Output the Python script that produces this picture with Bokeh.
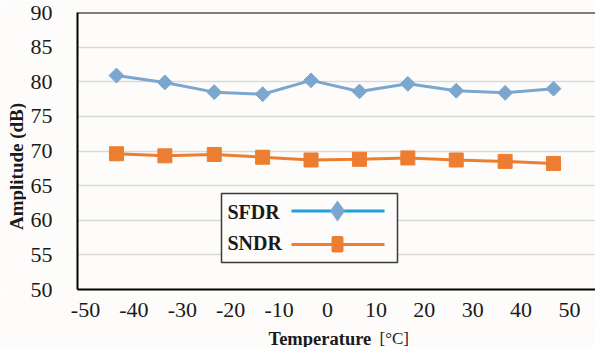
import numpy as np
from bokeh.plotting import figure
from bokeh.layouts import row, column
from bokeh.models import Range1d, FixedTicker, Span, Label, BoxAnnotation, PolyAnnotation
from bokeh.embed import file_html
from bokeh.resources import INLINE

# Measured amplitudes versus temperature
temperature = [-43.6, -33.6, -23.4, -13.4, -3.4, 6.6, 16.6, 26.6, 36.7, 46.7]
sfdr = [80.9, 79.9, 78.5, 78.2, 80.2, 78.6, 79.7, 78.7, 78.4, 79.0]
sndr = [69.6, 69.3, 69.5, 69.1, 68.7, 68.8, 69.0, 68.7, 68.5, 68.2]

x_ticks = [-50, -40, -30, -20, -10, 0, 10, 20, 30, 40, 50]
y_ticks = [50, 55, 60, 65, 70, 75, 80, 85, 90]

series_names = ["SFDR", "SNDR"]
x_title = "Temperature"
x_unit = "[°C]"
y_title = "Amplitude (dB)"

BG = "#FDFCFA"
BLUE = "#7BA7CF"
BLUE_LEGEND = "#1BA1DC"
ORANGE = "#ED7D31"
INK = "#1a1a1a"
FONT = "Liberation Serif"

W, H = 595, 347
SIDE_W = 26            # strip holding the vertical title
FOOT_H = 25            # strip holding the horizontal title
MAIN_W, MAIN_H = W - SIDE_W, H - FOOT_H

FRAME_L, FRAME_T, FRAME_B = 77, 12, 289   # page pixels of the plotting frame
X0, X1 = -51.65, 55.37
Y0, Y1 = 50, 90


def dx(px):
    # page pixel column -> data x of the main plot
    return X0 + (px - FRAME_L) / (W - FRAME_L) * (X1 - X0)


def dy(py):
    # page pixel row -> data y of the main plot
    return Y1 - (py - FRAME_T) / (FRAME_B - FRAME_T) * (Y1 - Y0)


def blank(width, height):
    f = figure(width=width, height=height, x_range=Range1d(0, width),
               y_range=Range1d(height, 0), x_axis_type=None, y_axis_type=None,
               output_backend="svg", toolbar_location=None, min_border=0)
    f.background_fill_color = BG
    f.border_fill_color = BG
    f.outline_line_color = None
    f.grid.visible = False
    return f


p = figure(width=MAIN_W, height=MAIN_H, x_range=Range1d(X0, X1), y_range=Range1d(Y0, Y1),
           output_backend="svg", toolbar_location=None,
           min_border_left=FRAME_L - SIDE_W, min_border_right=0,
           min_border_top=FRAME_T, min_border_bottom=MAIN_H - FRAME_B)
p.background_fill_color = BG
p.border_fill_color = BG
p.outline_line_color = None

for ax in (p.xaxis[0], p.yaxis[0]):
    ax.axis_line_color = "black"
    ax.axis_line_width = 2
    ax.major_tick_line_color = None
    ax.minor_tick_line_color = None
    ax.major_label_text_font = FONT
    ax.major_label_text_font_size = "22px"
    ax.major_label_text_color = INK

p.xaxis[0].ticker = FixedTicker(ticks=x_ticks)
p.xaxis[0].major_label_overrides = {t: str(t) for t in x_ticks}
p.yaxis[0].ticker = FixedTicker(ticks=y_ticks)
p.xaxis[0].major_label_standoff = 7
p.yaxis[0].major_label_standoff = 19

p.xgrid.visible = False
p.ygrid.grid_line_color = "#D9D9D9"
p.ygrid.grid_line_width = 1.5

p.add_layout(Span(location=Y1, dimension="width", line_color="black", line_width=2))

# data series
p.line(temperature, sfdr, line_color=BLUE, line_width=3)
p.scatter(temperature, sfdr, marker="square", angle=np.pi / 4, size=10.5,
          fill_color=BLUE, line_color=BLUE)
p.line(temperature, sndr, line_color=ORANGE, line_width=3)
p.scatter(temperature, sndr, marker="square", size=14,
          fill_color=ORANGE, line_color=ORANGE)

# legend box
p.add_layout(BoxAnnotation(left=dx(221), right=dx(397), top=dy(193), bottom=dy(262),
                           fill_color=BG, fill_alpha=1, line_color="#3a3a3a",
                           line_alpha=1, line_width=1.5))
p.add_layout(BoxAnnotation(left=dx(291), right=dx(384), top=dy(209), bottom=dy(212),
                           fill_color=BLUE_LEGEND, fill_alpha=1, line_color=None))
p.add_layout(PolyAnnotation(xs=[dx(329.5), dx(337), dx(344.5), dx(337)],
                            ys=[dy(210.5), dy(200), dy(210.5), dy(221)],
                            fill_color=BLUE, fill_alpha=1, line_color=None))
p.add_layout(BoxAnnotation(left=dx(291), right=dx(384), top=dy(242.5), bottom=dy(245.5),
                           fill_color=ORANGE, fill_alpha=1, line_color=None))
p.add_layout(BoxAnnotation(left=dx(331), right=dx(343), top=dy(235.5), bottom=dy(252),
                           fill_color=ORANGE, fill_alpha=1, line_color=None,
                           border_radius=2))
for name, py in zip(series_names, [211, 242]):
    p.add_layout(Label(x=dx(227), y=dy(py), text=name, text_font=FONT,
                       text_font_style="bold", text_font_size="20px",
                       text_baseline="middle", text_align="left", text_color=INK))

# vertical title strip
side = blank(SIDE_W, MAIN_H)
side.add_layout(Label(x=16, y=179, text=y_title, angle=np.pi / 2,
                      text_font=FONT, text_font_style="bold", text_font_size="19px",
                      text_align="center", text_baseline="middle", text_color=INK))

# horizontal title strip
foot = blank(W, FOOT_H)
foot.add_layout(Label(x=268, y=16, text=x_title, text_font=FONT,
                      text_font_style="bold", text_font_size="18.5px",
                      text_align="left", text_baseline="alphabetic", text_color=INK))
foot.add_layout(Label(x=379, y=16, text=x_unit, text_font=FONT,
                      text_font_size="17px", text_align="left",
                      text_baseline="alphabetic", text_color=INK))

page = column(row(side, p), foot)
open("out.html", "w").write(file_html(page, INLINE))
